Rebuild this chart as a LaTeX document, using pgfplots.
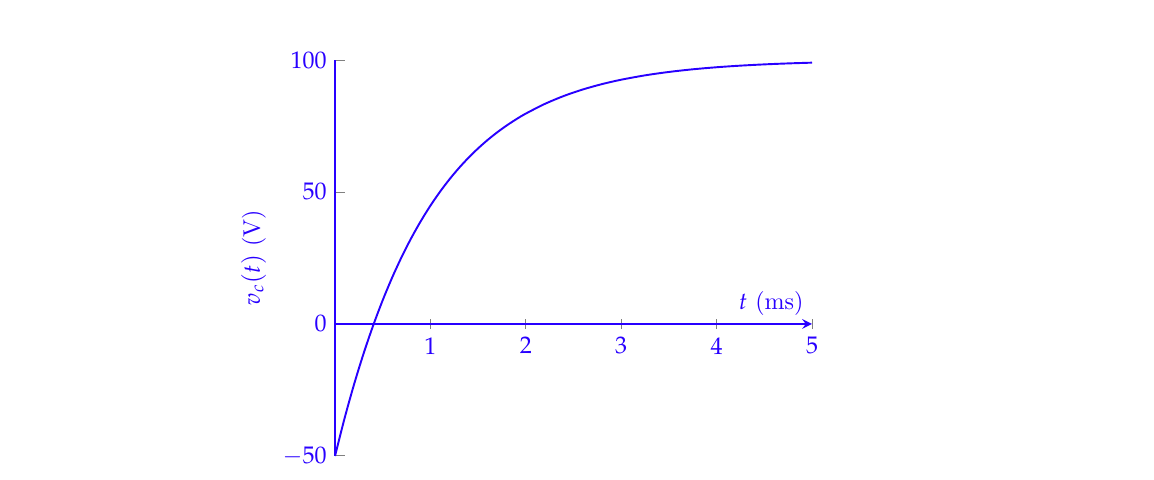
\documentclass[border=0pt]{standalone}
\usepackage{mathpazo}
\usepackage{pgfplots}
\pgfplotsset{compat=1.18}
\definecolor{vblue}{RGB}{40,0,255}
\begin{document}
\begin{tikzpicture}
\begin{axis}[
  at={(0,0)}, anchor=south west,
  scale only axis, width=198.75pt, height=165pt,
  xmin=0, xmax=5, ymin=-50, ymax=100,
  axis x line=middle, axis y line*=left,
  axis line style={vblue, line width=0.8pt},
  xtick={1,2,3,4,5}, ytick={-50,0,50,100},
  tick style={gray, thin},
  ticklabel style={text=vblue},
  label style={text=vblue},
  xlabel={$t$ (ms)},
  xlabel style={at={(axis cs:5,0)}, anchor=south east},
  ylabel={$v_c(t)$ (V)},
  clip=false,
]
\addplot[vblue, line width=0.8pt, smooth] coordinates {
(0,-50) (0.1,-35.726) (0.2,-22.810) (0.3,-11.123) (0.4,-0.548) (0.5,9.020)
(0.6,17.678) (0.7,25.512) (0.8,32.601) (0.9,39.015) (1.0,44.818)
(1.1,50.069) (1.2,54.821) (1.3,59.120) (1.4,63.010) (1.5,66.530)
(1.6,69.716) (1.7,72.597) (1.8,75.205) (1.9,77.565) (2.0,79.700)
(2.2,83.380) (2.4,86.392) (2.6,88.859) (2.8,90.879) (3.0,92.532)
(3.25,94.184) (3.5,95.470) (3.75,96.472) (4.0,97.253) (4.25,97.860)
(4.5,98.334) (4.75,98.702) (5.0,98.989)
};
\end{axis}
\path (-139.6pt,-10pt) rectangle (341.25pt,190pt);
\end{tikzpicture}
\end{document}
